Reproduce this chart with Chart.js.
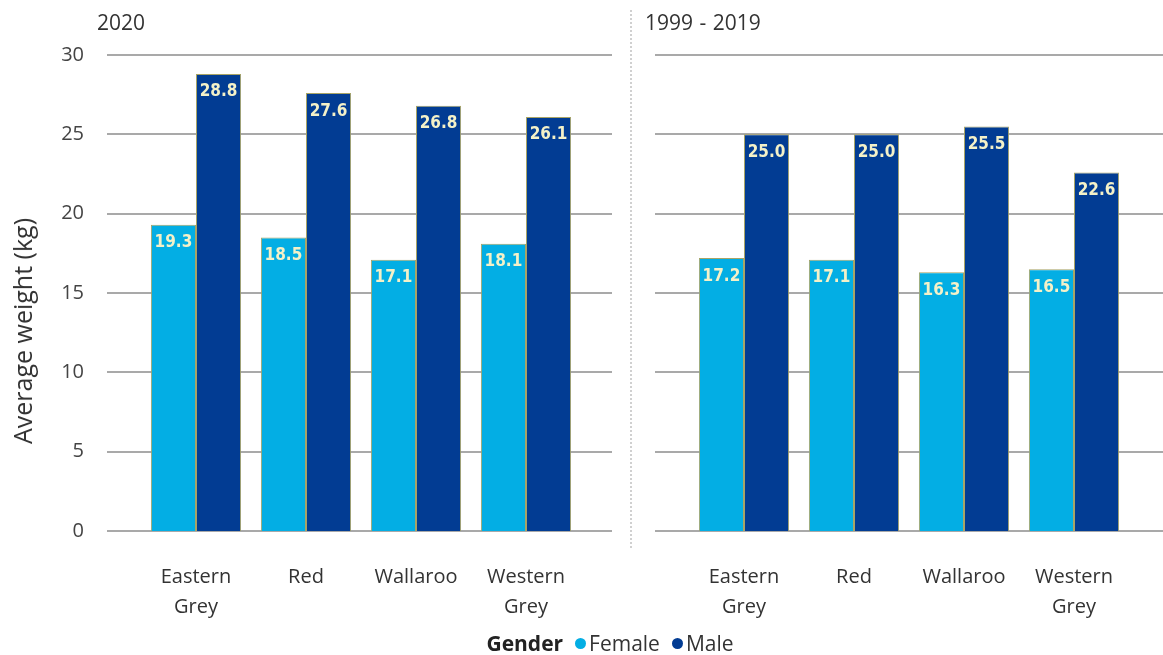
<!DOCTYPE html>
<html>
<head>
<meta charset="utf-8">
<script src="https://cdn.jsdelivr.net/npm/chart.js@4"></script>
<style>
  html, body { margin: 0; padding: 0; background: #fff; }
  body { width: 1163px; height: 655px; position: relative; overflow: hidden; font-family: "Open Sans", sans-serif; }
  #left { position: absolute; left: 0; top: 0; width: 630px; height: 655px; }
  #right { position: absolute; left: 630px; top: 0; width: 533px; height: 655px; }
  .panel-title { position: absolute; top: 7px; font-size: 21px; color: #333; line-height: 30px; word-spacing: 1px; }
  #ytitle { position: absolute; left: 22px; top: 331px; transform: translate(-50%, -50%) rotate(-90deg); white-space: nowrap; font-size: 25px; color: #333; line-height: 30px; }
  #sep { position: absolute; left: 630px; top: 10px; height: 538px; border-left: 2px dotted #d0d0d0; }
  #legend { position: absolute; top: 628px; left: 0; width: 1220px; display: flex; justify-content: center; align-items: center; font-size: 21px; color: #333; line-height: 30px; }
  #legend b { color: #222; margin-right: 8px; }
  #legend .dot { display: inline-block; width: 11px; height: 11px; border-radius: 50%; margin: 0 3px 0 4px; }
</style>
</head>
<body>
<canvas id="left" width="630" height="655"></canvas>
<canvas id="right" width="533" height="655"></canvas>
<div id="sep"></div>
<div class="panel-title" style="left:97px">2020</div>
<div class="panel-title" style="left:645px">1999 - 2019</div>
<div id="ytitle">Average weight (kg)</div>
<div id="legend"><b>Gender</b><span class="dot" style="background:#03AEE4"></span>Female<span class="dot" style="background:#023C93;margin-left:12px"></span>Male</div>
<script>
// Kangaroo species and average weights (kg) by gender
const species = [["Eastern", "Grey"], "Red", "Wallaroo", ["Western", "Grey"]];
const female2020 = [19.3, 18.5, 17.1, 18.1];
const male2020 = [28.8, 27.6, 26.8, 26.1];
const femaleHist = [17.2, 17.1, 16.3, 16.5];
const maleHist = [25.0, 25.0, 25.5, 22.6];
const yTicks = [0, 5, 10, 15, 20, 25, 30];

const FEMALE = "#03AEE4";
const MALE = "#023C93";
const EDGE = "#A8A466";

// horizontal gridlines that run a little past the plotting area
function gridPlugin(x0, x1) {
  return {
    id: "wideGrid",
    beforeDatasetsDraw(chart) {
      const ctx = chart.ctx, y = chart.scales.y;
      ctx.save();
      ctx.strokeStyle = "#A9A9A9";
      ctx.lineWidth = 2;
      yTicks.forEach(v => {
        const py = Math.round(y.getPixelForValue(v));
        ctx.beginPath();
        ctx.moveTo(x0, py);
        ctx.lineTo(x1, py);
        ctx.stroke();
      });
      ctx.restore();
    }
  };
}

// value labels inside the top of each bar
const valueLabels = {
  id: "valueLabels",
  afterDatasetsDraw(chart) {
    const ctx = chart.ctx;
    ctx.save();
    ctx.font = "bold 17px 'DejaVu Sans Condensed', 'DejaVu Sans', sans-serif";
    ctx.textAlign = "center";
    ctx.textBaseline = "middle";
    chart.data.datasets.forEach((ds, i) => {
      chart.getDatasetMeta(i).data.forEach((bar, j) => {
        const txt = ds.data[j].toFixed(1);
        ctx.fillStyle = "#F4F1C8";
        ctx.fillText(txt, bar.x, bar.y + 18);
      });
    });
    ctx.restore();
  }
};

function makeChart(id, female, male, showY, padding, grid) {
  const yScale = {
    display: showY,
    min: 0,
    max: 30,
    grid: { display: false, drawTicks: false },
    border: { display: false },
    ticks: {
      stepSize: 5,
      color: "#444",
      padding: 57,
      font: { family: "'Open Sans', sans-serif", size: 20 }
    }
  };
  if (showY) {
    yScale.afterFit = s => {
      s.width = 141;
      s.paddingTop = 0;
      s.paddingBottom = 0;
    };
  }
  return new Chart(document.getElementById(id), {
    type: "bar",
    data: {
      labels: species,
      datasets: [
        { label: "Female", data: female, backgroundColor: FEMALE, borderColor: EDGE, borderWidth: 1 },
        { label: "Male", data: male, backgroundColor: MALE, borderColor: EDGE, borderWidth: 1 }
      ]
    },
    options: {
      responsive: false,
      animation: false,
      layout: { padding },
      categoryPercentage: 0.82,
      barPercentage: 1.0,
      plugins: { legend: { display: false }, tooltip: { enabled: false } },
      scales: {
        x: {
          grid: { display: false },
          border: { display: false },
          ticks: {
            color: "#333",
            font: { family: "'Open Sans', sans-serif", size: 20, lineHeight: 1.5 },
            padding: 23,
            maxRotation: 0,
            autoSkip: false
          },
          afterFit(s) { s.height = 124; }
        },
        y: yScale
      }
    },
    plugins: [gridPlugin(grid[0], grid[1]), valueLabels]
  });
}

makeChart("left", female2020, male2020, true, { left: 0, right: 49, top: 55, bottom: 0 }, [107, 612]);
makeChart("right", femaleHist, maleHist, false, { left: 59, right: 34, top: 55, bottom: 0 }, [25, 533]);
</script>
</body>
</html>
